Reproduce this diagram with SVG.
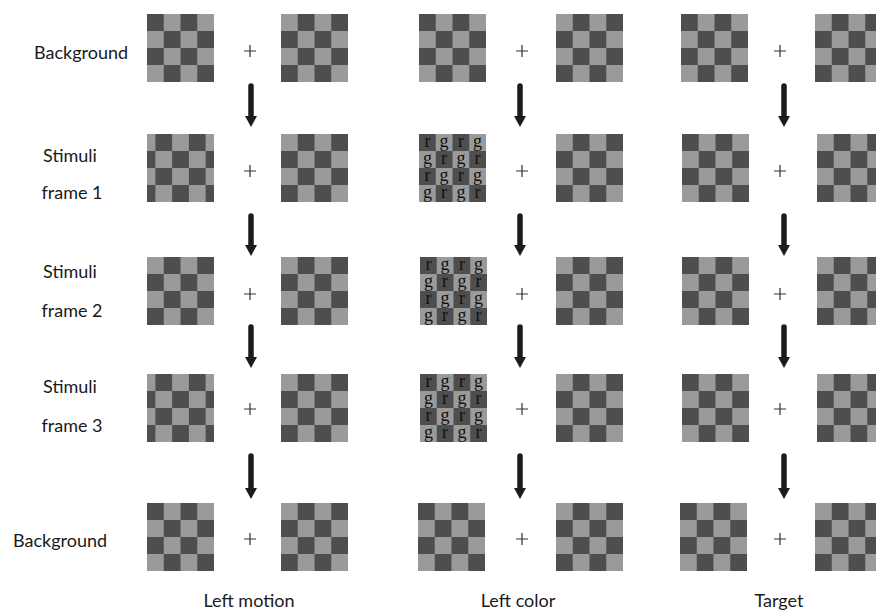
<svg xmlns="http://www.w3.org/2000/svg" xmlns:xlink="http://www.w3.org/1999/xlink" width="876" height="612" viewBox="0 0 876 612">
<style>
.lbl{font-family:Lato,"Open Sans","Noto Sans",sans-serif;font-size:18px;fill:#1a1a1a;text-anchor:middle}
.ltr{font-family:"Liberation Serif","DejaVu Serif",serif;font-size:18px;fill:#111;text-anchor:middle}
.plus{stroke:#333;stroke-width:1.2;fill:none}
.arr{stroke:#1c1c1c;stroke-width:5.5;stroke-linecap:round;fill:none;marker-end:url(#ah)}
</style>
<defs>
<pattern id="pA" width="33.5" height="34" patternUnits="userSpaceOnUse">
<rect width="33.5" height="34" fill="#9a9a9a"/>
<rect width="16.75" height="17" fill="#4e4e4e"/>
<rect x="16.75" y="17" width="16.75" height="17" fill="#4e4e4e"/>
</pattern>
<pattern id="pB" x="16.75" width="33.5" height="34" patternUnits="userSpaceOnUse">
<rect width="33.5" height="34" fill="#9a9a9a"/>
<rect width="16.75" height="17" fill="#4e4e4e"/>
<rect x="16.75" y="17" width="16.75" height="17" fill="#4e4e4e"/>
</pattern>
<pattern id="pS" x="8.375" width="33.5" height="34" patternUnits="userSpaceOnUse">
<rect width="33.5" height="34" fill="#9a9a9a"/>
<rect width="16.75" height="17" fill="#4e4e4e"/>
<rect x="16.75" y="17" width="16.75" height="17" fill="#4e4e4e"/>
</pattern>
<marker id="ah" markerUnits="userSpaceOnUse" markerWidth="12" markerHeight="12" refX="0" refY="6" orient="auto" viewBox="0 0 11 12">
<path d="M0,0 L11,6 L0,12 z" fill="#1c1c1c"/>
</marker>
<rect id="bA" width="67" height="68" fill="url(#pA)"/>
<rect id="bB" width="67" height="68" fill="url(#pB)"/>
<rect id="bS" width="67" height="68" fill="url(#pS)"/>
<g id="bL">
<rect width="67" height="68" fill="url(#pA)"/>
<text class="ltr" x="8.4" y="13">r</text><text class="ltr" x="25.1" y="13">g</text><text class="ltr" x="41.9" y="13">r</text><text class="ltr" x="58.6" y="13">g</text>
<text class="ltr" x="8.4" y="30">g</text><text class="ltr" x="25.1" y="30">r</text><text class="ltr" x="41.9" y="30">g</text><text class="ltr" x="58.6" y="30">r</text>
<text class="ltr" x="8.4" y="47">r</text><text class="ltr" x="25.1" y="47">g</text><text class="ltr" x="41.9" y="47">r</text><text class="ltr" x="58.6" y="47">g</text>
<text class="ltr" x="8.4" y="64">g</text><text class="ltr" x="25.1" y="64">r</text><text class="ltr" x="41.9" y="64">g</text><text class="ltr" x="58.6" y="64">r</text>
</g>
<path id="pl" class="plus" d="M-6,0 H6 M0,-6 V6"/>
</defs>
<rect width="876" height="612" fill="#fff"/>

<g id="labels">
<text id="lab-bg1" class="lbl" x="81" y="59">Background</text>
<text id="lab-s1" class="lbl" x="70" y="162">Stimuli</text>
<text id="lab-f1" class="lbl" x="72" y="199">frame 1</text>
<text id="lab-s2" class="lbl" x="70" y="278">Stimuli</text>
<text id="lab-f2" class="lbl" x="72" y="317">frame 2</text>
<text id="lab-s3" class="lbl" x="70" y="393">Stimuli</text>
<text id="lab-f3" class="lbl" x="72" y="432">frame 3</text>
<text id="lab-bg2" class="lbl" x="60" y="547">Background</text>
<text id="lab-c1" class="lbl" x="249" y="607">Left motion</text>
<text id="lab-c2" class="lbl" x="518" y="607">Left color</text>
<text id="lab-c3" class="lbl" x="779" y="607">Target</text>
</g>

<g id="col-motion">
<g id="m1L"><use xlink:href="#bA" x="147" y="14"/></g>
<g id="m1R"><use xlink:href="#bB" x="281" y="14"/></g>
<g id="m2L"><use xlink:href="#bS" x="147" y="134"/></g>
<g id="m2R"><use xlink:href="#bB" x="281" y="134"/></g>
<g id="m3L"><use xlink:href="#bB" x="147" y="257"/></g>
<g id="m3R"><use xlink:href="#bB" x="281" y="257"/></g>
<g id="m4L"><use xlink:href="#bS" x="147" y="374"/></g>
<g id="m4R"><use xlink:href="#bB" x="281" y="374"/></g>
<g id="m5L"><use xlink:href="#bA" x="147" y="503"/></g>
<g id="m5R"><use xlink:href="#bB" x="281" y="503"/></g>
</g>

<g id="col-color">
<g id="c1L"><use xlink:href="#bA" x="419" y="14"/></g>
<g id="c1R"><use xlink:href="#bB" x="556" y="14"/></g>
<g id="c2L"><use xlink:href="#bL" x="419" y="134"/></g>
<g id="c2R"><use xlink:href="#bB" x="556" y="134"/></g>
<g id="c3L"><use xlink:href="#bL" x="420" y="257"/></g>
<g id="c3R"><use xlink:href="#bB" x="556" y="257"/></g>
<g id="c4L"><use xlink:href="#bL" x="420" y="374"/></g>
<g id="c4R"><use xlink:href="#bB" x="556" y="374"/></g>
<g id="c5L"><use xlink:href="#bA" x="418" y="503"/></g>
<g id="c5R"><use xlink:href="#bB" x="556" y="503"/></g>
</g>

<g id="col-target">
<g id="t1L"><use xlink:href="#bA" x="681" y="14"/></g>
<g id="t1R"><use xlink:href="#bB" x="815" y="14"/></g>
<g id="t2L"><use xlink:href="#bA" x="682" y="134"/></g>
<g id="t2R"><use xlink:href="#bB" x="817" y="134"/></g>
<g id="t3L"><use xlink:href="#bA" x="682" y="257"/></g>
<g id="t3R"><use xlink:href="#bB" x="817" y="257"/></g>
<g id="t4L"><use xlink:href="#bA" x="682" y="374"/></g>
<g id="t4R"><use xlink:href="#bB" x="817" y="374"/></g>
<g id="t5L"><use xlink:href="#bA" x="680" y="503"/></g>
<g id="t5R"><use xlink:href="#bB" x="815" y="503"/></g>
</g>

<g id="plus-signs">
<use xlink:href="#pl" x="250" y="51"/><use xlink:href="#pl" x="522" y="51"/><use xlink:href="#pl" x="780" y="51"/>
<use xlink:href="#pl" x="250" y="171"/><use xlink:href="#pl" x="522" y="171"/><use xlink:href="#pl" x="780" y="171"/>
<use xlink:href="#pl" x="250" y="294"/><use xlink:href="#pl" x="522" y="294"/><use xlink:href="#pl" x="780" y="294"/>
<use xlink:href="#pl" x="250" y="409"/><use xlink:href="#pl" x="522" y="409"/><use xlink:href="#pl" x="780" y="409"/>
<use xlink:href="#pl" x="250" y="539"/><use xlink:href="#pl" x="522" y="539"/><use xlink:href="#pl" x="780" y="539"/>
</g>

<g id="connectors">
<path class="arr" d="M251,86 V116"/><path class="arr" d="M520,86 V116"/><path class="arr" d="M784,86 V116"/>
<path class="arr" d="M251,216 V245"/><path class="arr" d="M520,216 V245"/><path class="arr" d="M784,216 V245"/>
<path class="arr" d="M251,327 V357"/><path class="arr" d="M520,327 V357"/><path class="arr" d="M784,327 V357"/>
<path class="arr" d="M251,456 V488"/><path class="arr" d="M520,456 V488"/><path class="arr" d="M784,456 V488"/>
</g>
</svg>
